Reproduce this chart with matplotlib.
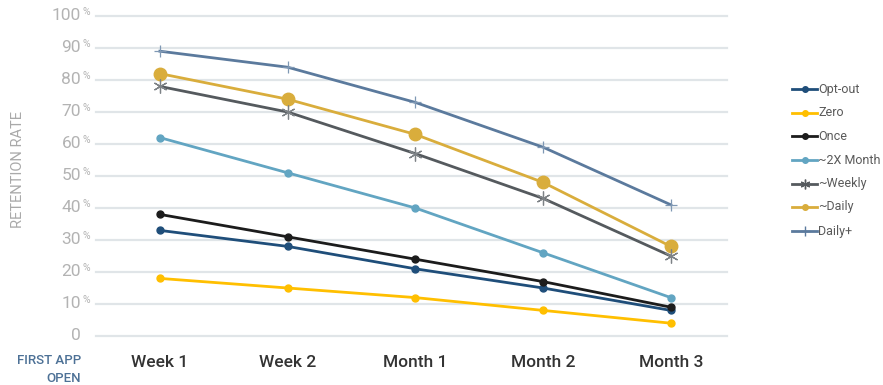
import matplotlib
matplotlib.use("Agg")
import matplotlib.pyplot as plt
from matplotlib.lines import Line2D

plt.rcParams['font.family'] = ['Roboto', 'DejaVu Sans']

categories = ["Week 1", "Week 2", "Month 1", "Month 2", "Month 3"]
y_ticks = [0, 10, 20, 30, 40, 50, 60, 70, 80, 90, 100]

series_names = ["Opt-out", "Zero", "Once", "~2X Month", "~Weekly", "~Daily", "Daily+"]
opt_out = [33, 28, 21, 15, 8]
zero = [18, 15, 12, 8, 4]
once = [38, 31, 24, 17, 9]
twice_month = [62, 51, 40, 26, 12]
weekly = [78, 70, 57, 43, 25]
daily = [82, 74, 63, 48, 28]
daily_plus = [89, 84, 73, 59, 41]
series_values = [opt_out, zero, once, twice_month, weekly, daily, daily_plus]

colors = ["#1f4e7a", "#ffbf00", "#1c1c1c", "#62a5c2", "#555a5e", "#d9ad3c", "#5b7a9d"]
asterisk = (6, 2, 0)
markers = ["o", "o", "o", "o", asterisk, "o", "+"]
msizes = [5, 5, 5, 5, 10, 9, 9]

W, H = 883, 385
fig = plt.figure(figsize=(W / 100, H / 100), dpi=100)
left, right, top, bottom = 96, 727, 16, 336
ax = fig.add_axes([left / W, 1 - bottom / H, (right - left) / W, (bottom - top) / H])

x = list(range(len(categories)))
ax.set_xlim(-0.5, 4.44)
ax.set_ylim(0, 100)

for yt in y_ticks:
    ax.axhline(yt, color="#e0e5e8", lw=1.6, zorder=0, clip_on=False)

for vals, c, m, ms in zip(series_values, colors, markers, msizes):
    if m == "o":
        ax.plot(x, vals, color=c, lw=2, marker=m, markersize=ms,
                markerfacecolor=c, markeredgecolor=c, zorder=3, clip_on=False)
    else:
        ax.plot(x, vals, color=c, lw=2, zorder=3, clip_on=False)
        ax.plot(x, vals, ls="none", marker=m, markersize=ms, markeredgewidth=0.9,
                markeredgecolor="#7d8286" if m == asterisk else "#7f98b4",
                zorder=4, clip_on=False)

for s in ax.spines.values():
    s.set_visible(False)
ax.set_yticks([])
ax.set_xticks(x)
ax.set_xticklabels(categories, fontsize=12.5, color="#333333", fontweight="medium")
ax.tick_params(axis="x", length=0, pad=14)

# y tick labels with a small superscript percent sign
tick_col = "#b3b3b3"
for yt in y_ticks:
    ypix = bottom - (bottom - top) * yt / 100
    yf = 1 - ypix / H
    fig.text(81 / W, yf, f"{yt}", ha="right", va="center", fontsize=12.5, color=tick_col)
    if yt:
        fig.text(82.5 / W, yf + 4 / H, "%", ha="left", va="center", fontsize=7.5, color=tick_col)

fig.text(18 / W, 1 - 170 / H, "RETENTION RATE", rotation=90, ha="center", va="center",
         fontsize=10.5, color="#a9a9a9")
fig.text(81 / W, 1 - 361 / H, "FIRST APP", ha="right", va="center", fontsize=9.5,
         color="#4d7196", fontweight="medium")
fig.text(81 / W, 1 - 378 / H, "OPEN", ha="right", va="center", fontsize=9.5,
         color="#4d7196", fontweight="medium")

# legend
leg_y = [89, 113, 136, 160, 184, 207, 231]
for name, c, m, ly in zip(series_names, colors, markers, leg_y):
    yf = 1 - ly / H
    fig.add_artist(Line2D([792 / W, 817 / W], [yf, yf], color=c, lw=2, transform=fig.transFigure))
    fig.add_artist(Line2D([804.5 / W], [yf], color=c, marker=m,
                          markersize=4 if m == "o" else 7, markeredgewidth=1,
                          transform=fig.transFigure))
    fig.text(818 / W, yf, name, ha="left", va="center", fontsize=9, color="#5a5a5a")

fig.savefig("out.png", dpi=100)
